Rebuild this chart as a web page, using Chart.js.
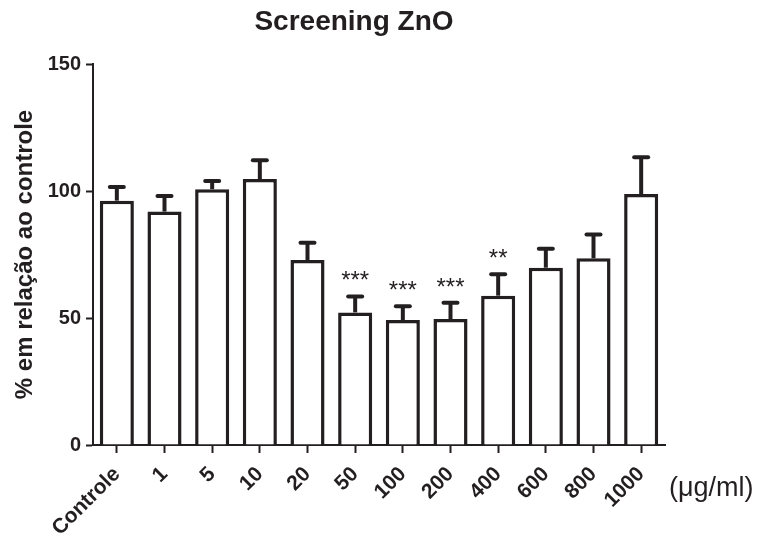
<!DOCTYPE html>
<html>
<head>
<meta charset="utf-8">
<script src="https://cdn.jsdelivr.net/npm/chart.js@4.4.1/dist/chart.umd.min.js"></script>
<style>
  body { margin: 0; background: #fff; }
  #wrap { width: 758px; height: 540px; }
</style>
</head>
<body>
<div id="wrap"><canvas id="chart" width="758" height="540"></canvas></div>
<script>
// Concentrations (x categories)
const CATEGORIES = ["Controle", "1", "5", "10", "20", "50", "100", "200", "400", "600", "800", "1000"];
// Mean % relative to control
const MEANS = [96.2, 91.9, 100.7, 104.7, 72.8, 52.2, 49.2, 49.6, 58.8, 69.8, 73.5, 98.8];
// Upper error (SEM)
const ERRORS = [6.2, 6.9, 4.0, 8.2, 7.6, 7.1, 6.2, 7.2, 9.2, 8.3, 10.2, 15.3];
// Significance marks
const STARS = ["", "", "", "", "", "***", "***", "***", "**", "", "", ""];
const Y_TICKS = [0, 50, 100, 150];

const INK = "#231f20";
const FONT = "'Liberation Sans', Arial, sans-serif";

// Error bars, stars and extra texts
const extrasPlugin = {
  id: "extras",
  afterDatasetsDraw(chart) {
    const ctx = chart.ctx;
    const x = chart.scales.x;
    const y = chart.scales.y;
    ctx.save();
    ctx.strokeStyle = INK;
    ctx.fillStyle = INK;

    MEANS.forEach((m, i) => {
      const px = x.getPixelForValue(i);
      const yTop = y.getPixelForValue(m);
      const yErr = y.getPixelForValue(m + ERRORS[i]);
      // vertical line
      ctx.lineWidth = 4;
      ctx.lineCap = "butt";
      ctx.beginPath();
      ctx.moveTo(px, yTop);
      ctx.lineTo(px, yErr + 2);
      ctx.stroke();
      // cap
      ctx.lineCap = "round";
      ctx.beginPath();
      ctx.moveTo(px - 7, yErr + 2);
      ctx.lineTo(px + 7, yErr + 2);
      ctx.stroke();

      if (STARS[i]) {
        ctx.font = "24px " + FONT;
        ctx.textAlign = "center";
        ctx.textBaseline = "alphabetic";
        ctx.fillText(STARS[i], px, yErr - 6);
      }
    });

    // title
    ctx.font = "bold 28px " + FONT;
    ctx.textAlign = "center";
    ctx.textBaseline = "alphabetic";
    ctx.fillText("Screening ZnO", 354, 30);

    // y axis title
    ctx.save();
    ctx.translate(25, (chart.chartArea.top + chart.chartArea.bottom) / 2);
    ctx.rotate(-Math.PI / 2);
    ctx.font = "bold 24px " + FONT;
    ctx.textBaseline = "middle";
    ctx.fillText("% em relação ao controle", 0, 0);
    ctx.restore();

    // unit label
    ctx.font = "27px " + FONT;
    ctx.textAlign = "left";
    ctx.textBaseline = "middle";
    ctx.fillText("(\u03bcg/ml)", 669, 489);

    ctx.restore();
  },
};

new Chart(document.getElementById("chart"), {
  type: "bar",
  data: {
    labels: CATEGORIES,
    datasets: [
      {
        data: MEANS,
        backgroundColor: "#ffffff",
        borderColor: INK,
        borderWidth: 3.5,
        borderSkipped: "bottom",
        categoryPercentage: 1,
        barPercentage: 0.715,
      },
    ],
  },
  options: {
    responsive: false,
    animation: false,
    layout: { padding: { top: 64, right: 93, left: 0, bottom: 0 } },
    plugins: {
      legend: { display: false },
      title: { display: false },
      tooltip: { enabled: false },
    },
    scales: {
      x: {
        afterFit: (scale) => { scale.height = 95; },
        border: { display: true, color: INK, width: 2 },
        grid: {
          offset: false,
          drawOnChartArea: false,
          drawTicks: true,
          tickLength: 8,
          tickWidth: 2,
          color: INK,
        },
        ticks: {
          minRotation: 45,
          maxRotation: 45,
          padding: 9,
          color: INK,
          font: { family: FONT, size: 21, weight: "bold" },
        },
      },
      y: {
        min: 0,
        max: 150,
        afterFit: (scale) => { scale.width = 93; },
        afterBuildTicks: (scale) => {
          scale.ticks = Y_TICKS.map((v) => ({ value: v }));
        },
        border: { display: true, color: INK, width: 2 },
        grid: {
          drawOnChartArea: false,
          drawTicks: true,
          tickLength: 7,
          tickWidth: 2,
          color: INK,
        },
        ticks: {
          padding: 5,
          color: INK,
          font: { family: FONT, size: 20, weight: "bold" },
        },
      },
    },
  },
  plugins: [extrasPlugin],
});
</script>
</body>
</html>
